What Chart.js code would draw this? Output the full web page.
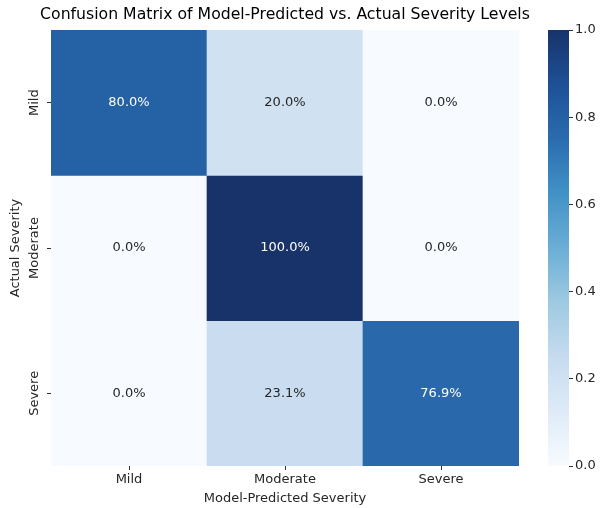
<!DOCTYPE html>
<html>
<head>
<meta charset="utf-8">
<script src="https://cdn.jsdelivr.net/npm/chart.js@4.4.0/dist/chart.umd.min.js"></script>
<style>
  html, body { margin: 0; padding: 0; background: #fff; }
  #contenedor { position: relative; width: 601px; height: 508px; }
  #matriz { position: absolute; left: 0; top: 0; }
  #barra { position: absolute; left: 520px; top: 0; }
</style>
</head>
<body>
<div id="contenedor">
  <canvas id="matriz" width="601" height="508"></canvas>
  <canvas id="barra" width="81" height="508"></canvas>
</div>
<script>
// Datos
const predichas = ["Mild", "Moderate", "Severe"];
const reales = ["Mild", "Moderate", "Severe"];
const filaMild = [0.8, 0.2, 0.0];
const filaModerate = [0.0, 1.0, 0.0];
const filaSevere = [0.0, 0.231, 0.769];
const ticksBarra = [0, 0.2, 0.4, 0.6, 0.8, 1.0];
const titulo = "Confusion Matrix of Model-Predicted vs. Actual Severity Levels";

const filas = [filaMild, filaModerate, filaSevere];

// Paleta azul (ajustada a los tonos del original)
const azules = ["#f7fbff", "#deebf7", "#c6dbef", "#9ecae1", "#6baed6",
                "#4292c6", "#2a6caf", "#1e5096", "#17336a"];

const hexARgb = (h) => [1, 3, 5].map((i) => parseInt(h.slice(i, i + 2), 16));

const mezclaAzul = (v) => {
  const pos = Math.min(Math.max(v, 0), 1) * (azules.length - 1);
  const i = Math.min(Math.floor(pos), azules.length - 2);
  const t = pos - i;
  const a = hexARgb(azules[i]);
  const b = hexARgb(azules[i + 1]);
  return a.map((x, k) => x + (b[k] - x) * t);
};

const colorAzul = (v) => {
  const c = mezclaAzul(v).map(Math.round);
  return `rgb(${c[0]}, ${c[1]}, ${c[2]})`;
};

// Texto blanco sobre celdas oscuras (como seaborn)
const colorTexto = (v) => {
  const c = mezclaAzul(v).map((x) => x / 255)
    .map((x) => (x <= 0.03928 ? x / 12.92 : Math.pow((x + 0.055) / 1.055, 2.4)));
  const lum = 0.2126 * c[0] + 0.7152 * c[1] + 0.0722 * c[2];
  return lum > 0.408 ? "#262626" : "#ffffff";
};

const fuente = "'DejaVu Sans', sans-serif";
const colorEtiqueta = "#262626";
const tamEtiqueta = 13;

// Anotaciones de porcentaje en cada celda + título centrado sobre el área
const pluginAnotaciones = {
  id: "anotaciones",
  afterDatasetsDraw(chart) {
    const ctx = chart.ctx;
    const xEje = chart.scales.x;
    const yEje = chart.scales.y;
    ctx.save();
    ctx.font = `${tamEtiqueta}px ${fuente}`;
    ctx.textAlign = "center";
    ctx.textBaseline = "middle";
    filas.forEach((fila, i) => {
      fila.forEach((v, j) => {
        ctx.fillStyle = colorTexto(v);
        ctx.fillText(`${(v * 100).toFixed(1)}%`,
          xEje.getPixelForValue(j), yEje.getPixelForValue(i + 0.5));
      });
    });
    // Título (sin ancho máximo, como en matplotlib)
    const area = chart.chartArea;
    ctx.font = `15.7px ${fuente}`;
    ctx.fillStyle = "#000";
    ctx.fillText(titulo, (area.left + area.right) / 2, 15);
    ctx.restore();
  },
};

const graficoMatriz = new Chart(document.querySelector("#matriz"), {
  type: "bar",
  data: {
    labels: predichas,
    datasets: filas.map((fila, i) => ({
      label: reales[i],
      data: fila.map(() => [i, i + 1]),
      backgroundColor: fila.map(colorAzul),
      borderWidth: 0,
      grouped: false,
      barPercentage: 1,
      categoryPercentage: 1,
    })),
  },
  options: {
    responsive: false,
    animation: false,
    layout: { padding: { top: 30, right: 82, bottom: 0, left: 0 } },
    scales: {
      x: {
        grid: { display: true, drawOnChartArea: false, offset: false, tickLength: 4, color: "#333" },
        border: { display: false },
        ticks: { color: colorEtiqueta, font: { family: fuente, size: tamEtiqueta }, padding: 2 },
        title: { display: true, text: "Model-Predicted Severity", color: colorEtiqueta,
                 font: { family: fuente, size: tamEtiqueta }, padding: { top: 0, bottom: 2 } },
        afterFit: (eje) => { eje.height = 42; },
      },
      y: {
        type: "linear",
        min: 0,
        max: 3,
        reverse: true,
        afterBuildTicks: (eje) => { eje.ticks = reales.map((r, i) => ({ value: i + 0.5 })); },
        grid: { display: true, drawOnChartArea: false, tickLength: 4, color: "#333" },
        border: { display: false },
        ticks: {
          color: colorEtiqueta,
          font: { family: fuente, size: tamEtiqueta },
          minRotation: 90,
          maxRotation: 90,
          crossAlign: "center",
          padding: -19,
          callback: (v) => reales[Math.floor(v)],
        },
        title: { display: true, text: "Actual Severity", color: colorEtiqueta,
                 font: { family: fuente, size: tamEtiqueta }, padding: { top: 8, bottom: 0 } },
        afterFit: (eje) => { eje.width = 51; },
      },
    },
    plugins: {
      legend: { display: false },
      tooltip: { enabled: false },
      title: { display: false },
    },
  },
  plugins: [pluginAnotaciones],
});

// Barra de color
const graficoBarra = new Chart(document.querySelector("#barra"), {
  type: "bar",
  data: {
    labels: [""],
    datasets: [{
      data: [[0, 1]],
      backgroundColor: (contexto) => {
        const area = contexto.chart.chartArea;
        if (!area) return azules[4];
        const g = contexto.chart.ctx.createLinearGradient(0, area.bottom, 0, area.top);
        azules.forEach((c, i) => g.addColorStop(i / (azules.length - 1), c));
        return g;
      },
      borderWidth: 0,
      barPercentage: 1,
      categoryPercentage: 1,
    }],
  },
  options: {
    responsive: false,
    animation: false,
    layout: { padding: { top: 30, right: 0, bottom: 42, left: 28 } },
    scales: {
      x: { display: false },
      y: {
        position: "right",
        min: 0,
        max: 1,
        afterBuildTicks: (eje) => { eje.ticks = ticksBarra.map((v) => ({ value: v })); },
        grid: { display: true, drawOnChartArea: false, tickLength: 4, color: "#333" },
        border: { display: false },
        ticks: { color: colorEtiqueta, font: { family: fuente, size: tamEtiqueta }, padding: 2,
                 callback: (v) => v.toFixed(1) },
        afterFit: (eje) => { eje.width = 32; },
      },
    },
    plugins: { legend: { display: false }, tooltip: { enabled: false } },
  },
});
</script>
</body>
</html>
